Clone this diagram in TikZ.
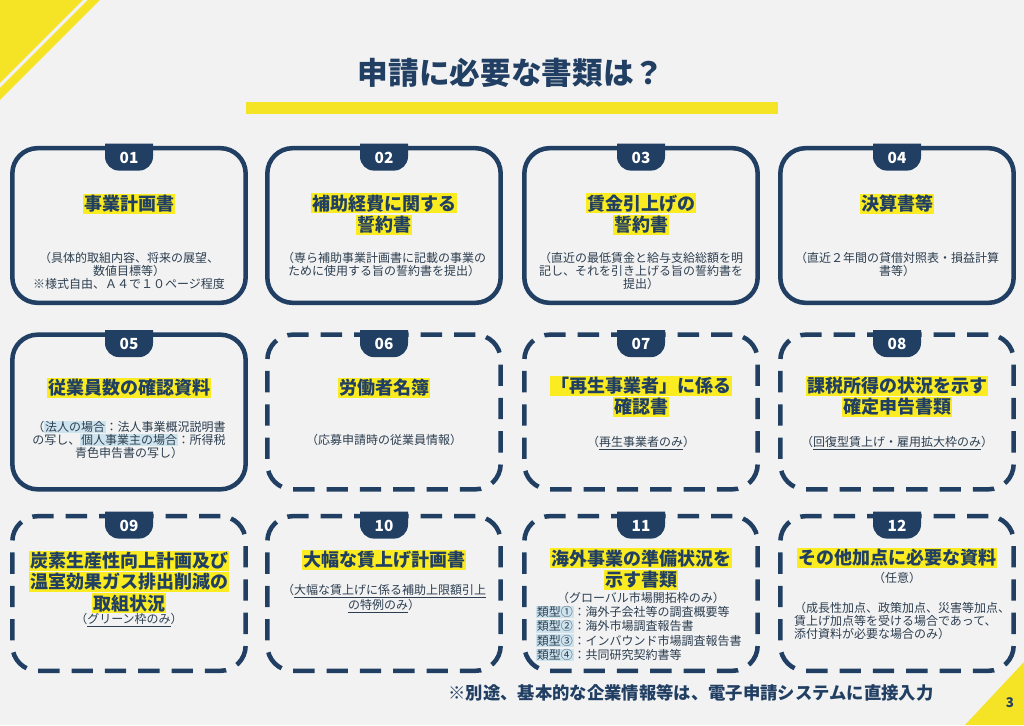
\documentclass[tikz,border=0pt]{standalone}
\usepackage{fontspec}
\setmainfont{Noto Sans CJK JP}
\usepackage{xcolor}
\usepackage{tikz}
\usetikzlibrary{positioning, calc}

\definecolor{navy}{HTML}{213F63}
\definecolor{mainyellow}{HTML}{F5E326}
\definecolor{hlyellow}{HTML}{FAEC21}
\definecolor{hlblue}{HTML}{CDE3EE}
\definecolor{bggray}{HTML}{F2F2F2}
\definecolor{subgray}{HTML}{2C3E50}

\newcommand{\hly}[1]{{\setlength{\fboxsep}{1pt}\colorbox{hlyellow}{#1}}}
\newcommand{\hlb}[1]{{\setlength{\fboxsep}{0.5pt}\colorbox{hlblue}{#1}}}

\begin{document}
\begin{tikzpicture}[x=0.75pt, y=0.75pt,
      docbox/.style={rectangle, rounded corners=19pt, draw=navy, line width=3.4pt, minimum width=175pt, minimum height=116pt},
      dashbox/.style={docbox, dash pattern=on 16pt off 9pt},
      numtab/.style={text=white, font=\fontsize{11.5pt}{12pt}\selectfont\bfseries, inner sep=0pt},
      ttl/.style={text=navy, font=\fontsize{13.5pt}{16pt}\selectfont\bfseries, align=center, inner sep=0pt},
      subtxt/.style={text=subgray, font=\fontsize{9pt}{9.75pt}\selectfont, align=center, inner sep=0pt}
    ]
      % Page
      \fill[bggray] (0,0) rectangle (1024,725);
      \useasboundingbox (0,0) rectangle (1024,725);
      \fill[mainyellow] (0,725) -- (83,725) -- (0,642) -- cycle;
      \fill[mainyellow] (88,725) -- (100,725) -- (0,625) -- (0,637) -- cycle;
      \fill[mainyellow] (1024,63) -- (1024,0) -- (965,0) -- cycle;

      % Title
      \node[text=navy, font=\fontsize{23pt}{26pt}\selectfont\bfseries] (title) at (511,652) {申請に必要な書類は？};
      \fill[mainyellow] (246,611) rectangle (778,623);

      % Boxes
      \node[docbox] (b01) at (129,499.5) {};
      \node[docbox] (b02) at (384,499.5) {};
      \node[docbox] (b03) at (641,499.5) {};
      \node[docbox] (b04) at (897,499.5) {};
      \node[docbox] (b05) at (129,313) {};
      \node[dashbox] (b06) at (384,313) {};
      \node[dashbox] (b07) at (641,313) {};
      \node[dashbox] (b08) at (897,313) {};
      \node[dashbox] (b09) at (129,131.5) {};
      \node[dashbox] (b10) at (384,131.5) {};
      \node[dashbox] (b11) at (641,131.5) {};
      \node[dashbox] (b12) at (897,131.5) {};

      % Number tabs
      \foreach \b in {01,02,03,04,05,06,07,08,09,10,11,12}{
        \fill[navy] ($(b\b.north)+(-24,2.3)$) -- ++(0,-13) arc[start angle=180, end angle=270, radius=14]
          -- ++(20,0) arc[start angle=270, end angle=360, radius=14] -- ++(0,13) -- cycle;
        \node[numtab] (n\b) at ($(b\b.north)+(0,-12)$) {\b};
      }

      % Row 1
      \node[ttl] (t01) at (129,521) {\hly{事業計画書}};
      \node[subtxt] (s01) at (129,454) {（具体的取組内容、将来の展望、\\数値目標等）\\※様式自由、Ａ４で１０ページ程度};
      \node[ttl] (t02) at (384,511) {\hly{補助経費に関する}\\\hly{誓約書}};
      \node[subtxt] (s02) at (384,460.5) {（専ら補助事業計画書に記載の事業の\\ために使用する旨の誓約書を提出）};
      \node[ttl] (t03) at (641,511) {\hly{賃金引上げの}\\\hly{誓約書}};
      \node[subtxt] (s03) at (641,454) {（直近の最低賃金と給与支給総額を明\\記し、それを引き上げる旨の誓約書を\\提出）};
      \node[ttl] (t04) at (897,521) {\hly{決算書等}};
      \node[subtxt] (s04) at (897,460.5) {（直近２年間の貸借対照表・損益計算\\書等）};

      % Row 2
      \node[ttl] (t05) at (129,337) {\hly{従業員数の確認資料}};
      \node[subtxt] (s05) at (129,285) {（\hlb{法人の場合}：法人事業概況説明書\\の写し、\hlb{個人事業主の場合}：所得税\\青色申告書の写し）};
      \node[ttl] (t06) at (384,337) {\hly{労働者名簿}};
      \node[subtxt] (s06) at (384,285) {（応募申請時の従業員情報）};
      \node[ttl] (t07) at (641,328.5) {\hly{「再生事業者」に係る}\\\hly{確認書}};
      \node[subtxt] (s07) at (641,282) {（\underline{再生事業者のみ}）};
      \node[ttl] (t08) at (897,328.5) {\hly{課税所得の状況を示す}\\\hly{確定申告書類}};
      \node[subtxt] (s08) at (897,282) {（\underline{回復型賃上げ・雇用拡大枠のみ}）};

      % Row 3
      \node[ttl] (t09) at (129,143) {\hly{炭素生産性向上計画及び}\\\hly{温室効果ガス排出削減の}\\\hly{取組状況}};
      \node[subtxt] (s09) at (129,105) {（\underline{グリーン枠のみ}）};
      \node[ttl] (t10) at (384,165) {\hly{大幅な賃上げ計画書}};
      \node[subtxt] (s10) at (384,126.5) {（\underline{大幅な賃上げに係る補助上限額引上}\\\underline{の特例のみ}）};
      \node[ttl] (t11) at (641,156) {\hly{海外事業の準備状況を}\\\hly{示す書類}};
      \node[subtxt] (s11) at (641,127) {（グローバル市場開拓枠のみ）};
      \node[subtxt, align=left, anchor=west, font=\fontsize{9pt}{10.7pt}\selectfont] (k11) at (536,91.5)
        {\hlb{類型①}：海外子会社等の調査概要等\\\hlb{類型②}：海外市場調査報告書\\\hlb{類型③}：インバウンド市場調査報告書\\\hlb{類型④}：共同研究契約書等};
      \node[ttl] (t12) at (897,167) {\hly{その他加点に必要な資料}};
      \node[subtxt] (s12) at (897,147) {（任意）};
      \node[subtxt, align=left] (k12) at (902,104) {（成長性加点、政策加点、災害等加点、\\賃上げ加点等を受ける場合であって、\\添付資料が必要な場合のみ）};

      % Footer
      \node[text=navy, font=\fontsize{13pt}{15pt}\selectfont\bfseries] (note) at (691,32) {※別途、基本的な企業情報等は、電子申請システムに直接入力};
      \node[text=navy, font=\fontsize{10pt}{12pt}\selectfont\bfseries] (page) at (1010,22) {3};
    \end{tikzpicture}
\end{document}
